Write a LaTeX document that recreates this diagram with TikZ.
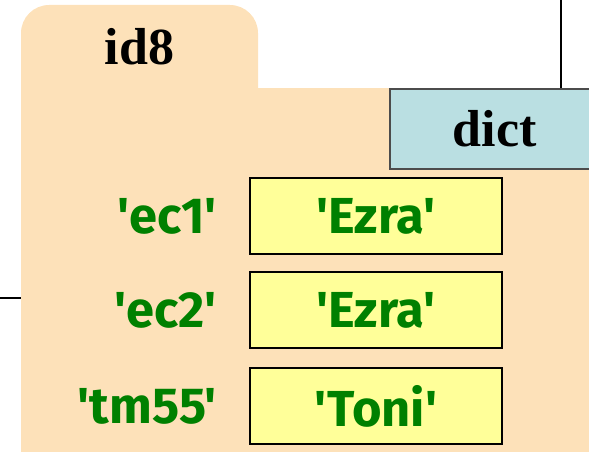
\documentclass[tikz,border=0pt]{standalone}
\usepackage{fontspec}
\setmainfont{Liberation Serif}
\newfontfamily\keyfont[Ligatures=ResetAll]{Fira Sans}
\usepackage{tikz}

\definecolor{folderfill}{RGB}{253,225,185}
\definecolor{typefill}{RGB}{186,223,226}
\definecolor{valfill}{RGB}{255,255,153}
\definecolor{strgreen}{RGB}{0,128,0}

\tikzset{
  folder/.style={fill=folderfill},
  typebox/.style={draw=black!70,line width=1.2pt,fill=typefill,minimum width=5.25cm,minimum height=2cm,
    font=\fontsize{37}{40}\selectfont\bfseries},
  valbox/.style={draw=black,line width=1.5pt,fill=valfill,minimum width=6.3cm,minimum height=1.9cm,
    text=strgreen,font=\fontsize{36}{40}\keyfont\bfseries},
  keytext/.style={anchor=east,inner sep=0pt,text=strgreen,font=\fontsize{36}{40}\keyfont\bfseries},
}

\begin{document}
\begin{tikzpicture}[x=0.025cm,y=-0.025cm]
            \useasboundingbox (0,0) rectangle (589,452);

            % Carpeta
            \fill[folder,rounded corners=20] (21,5) rectangle (258,130);
            \fill[folder] (21,88) rectangle (589,452);
            \node[font=\fontsize{37}{40}\selectfont\bfseries] (id) at (139.5,47) {id8};

            % Tipo
            \node[typebox,anchor=north west] (tipo) at (389,88) {dict};
            \coordinate (arriba) at (561,0);
            \draw[line width=1.2pt] (arriba) -- (arriba |- tipo.north);

            % Entradas
            \node[valbox] (v1) at (376,216) {'Ezra'};
            \node[valbox] (v2) at (376,310) {'Ezra'};
            \node[valbox] (v3) at (376,406) {'Toni'};
            \node[keytext] (k1) at (217,216) {'ec1'};
            \node[keytext] (k2) at (217,310) {'ec2'};
            \node[keytext] (k3) at (217,406) {'tm55'};

            % Referencia
            \coordinate (izq) at (0,298);
            \coordinate (borde) at (21,298);
            \draw[line width=0.9pt] (izq) -- (borde);
        \end{tikzpicture}
\end{document}
